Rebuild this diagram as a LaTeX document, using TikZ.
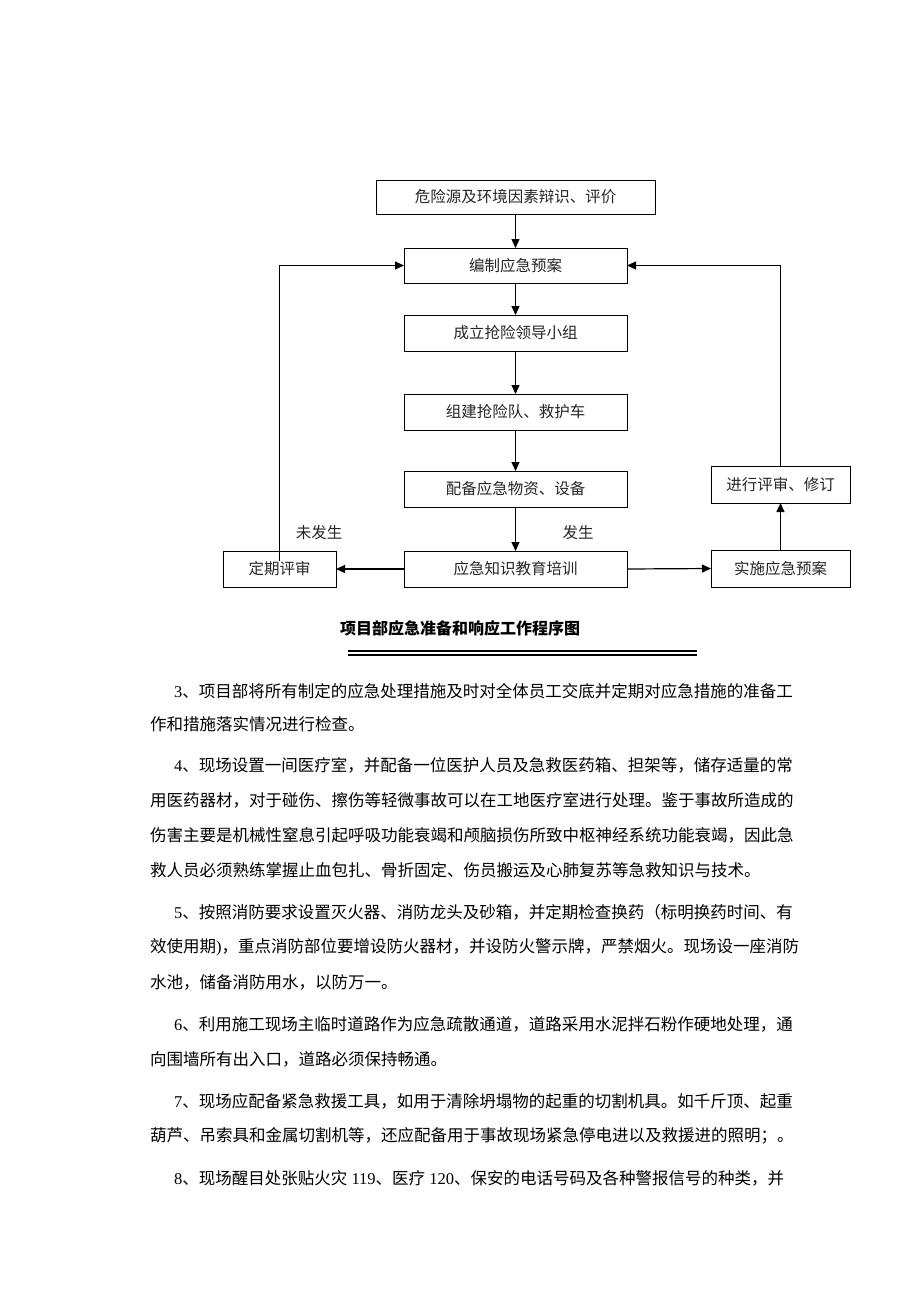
\documentclass[tikz,border=0pt]{standalone}
\usepackage{fontspec}
\newfontfamily\cjk{Noto Sans CJK SC}
\newfontfamily\lat{Liberation Serif}
\usetikzlibrary{arrows.meta}
\tikzset{
  box/.style={draw=black, line width=1pt, inner sep=0pt, outer sep=0pt, text=black!85, font=\cjk\fontsize{15.5}{18}\selectfont},
  arr/.style={line width=1.2pt, -{Triangle[length=9pt,width=8pt]}},
  lbl/.style={inner sep=0pt, text=black!85, font=\cjk\fontsize{15.5}{18}\selectfont},
  body/.style={anchor=west, inner sep=0pt, text=black, font=\cjk\fontsize{16.5}{20}\selectfont},
  ttl/.style={inner sep=0pt, text=black, font=\cjk\bfseries\fontsize{16}{20}\selectfont}
}
\begin{document}
\begin{tikzpicture}[x=1pt,y=-1pt]
\useasboundingbox (0,0) rectangle (920,1302);
\fill[white] (0,0) rectangle (920,1302);
% flowchart boxes
\node[box, minimum width=279pt, minimum height=34pt] (b1) at (515.5,197) {危险源及环境因素辩识、评价};
\node[box, minimum width=223pt, minimum height=35pt] (b2) at (515.5,265.5) {编制应急预案};
\node[box, minimum width=223pt, minimum height=36pt] (b3) at (515.5,333) {成立抢险领导小组};
\node[box, minimum width=223pt, minimum height=36pt] (b4) at (515.5,412) {组建抢险队、救护车};
\node[box, minimum width=223pt, minimum height=36pt] (b5) at (515.5,489) {配备应急物资、设备};
\node[box, minimum width=223pt, minimum height=36pt] (b6) at (515.5,569) {应急知识教育培训};
\node[box, minimum width=113pt, minimum height=36pt] (dq) at (279.5,569) {定期评审};
\node[box, minimum width=139pt, minimum height=37pt] (ss) at (780.5,568.5) {实施应急预案};
\node[box, minimum width=139pt, minimum height=37pt] (ps) at (780.5,484.5) {进行评审、修订};
\node[lbl] (nf) at (319,533) {未发生};
\node[lbl] (fs) at (578,533) {发生};
\coordinate (lc) at (279,561);
% connectors
\draw[arr] (b1) -- (b2);
\draw[arr] (b2) -- (b3);
\draw[arr] (b3) -- (b4);
\draw[arr] (b4) -- (b5);
\draw[arr] (b5) -- (b6);
\draw[arr] (b6.west) -- (dq.east);
\draw[arr] (b6.east) -- (ss.west);
\draw[arr] (ss) -- (ps);
\draw[arr, line width=1pt] (lc) |- (b2.west);
\draw[arr, line width=1pt] (ps.north) |- (b2.east);
% title
\node[ttl] (title) at (460,628) {项目部应急准备和响应工作程序图};
\draw[line width=1.2pt] (348,651) -- (697,651);
\draw[line width=2.8pt] (348,655) -- (697,655);
% body text
\node[body] (l1) at (174,691) {{\lat 3}、项目部将所有制定的应急处理措施及时对全体员工交底并定期对应急措施的准备工};
\node[body] (l2) at (150,724) {作和措施落实情况进行检查。};
\node[body] (l3) at (174,765) {{\lat 4}、现场设置一间医疗室，并配备一位医护人员及急救医药箱、担架等，储存适量的常};
\node[body] (l4) at (150,800) {用医药器材，对于碰伤、擦伤等轻微事故可以在工地医疗室进行处理。鉴于事故所造成的};
\node[body] (l5) at (150,835) {伤害主要是机械性窒息引起呼吸功能衰竭和颅脑损伤所致中枢神经系统功能衰竭，因此急};
\node[body] (l6) at (150,870) {救人员必须熟练掌握止血包扎、骨折固定、伤员搬运及心肺复苏等急救知识与技术。};
\node[body] (l7) at (174,912) {{\lat 5}、按照消防要求设置灭火器、消防龙头及砂箱，并定期检查换药（标明换药时间、有};
\node[body] (l8) at (150,947) {效使用期{\lat )}，重点消防部位要增设防火器材，并设防火警示牌，严禁烟火。现场设一座消防};
\node[body] (l9) at (150,982) {水池，储备消防用水，以防万一。};
\node[body] (l10) at (174,1024) {{\lat 6}、利用施工现场主临时道路作为应急疏散通道，道路采用水泥拌石粉作硬地处理，通};
\node[body] (l11) at (150,1059) {向围墙所有出入口，道路必须保持畅通。};
\node[body] (l12) at (174,1101) {{\lat 7}、现场应配备紧急救援工具，如用于清除坍塌物的起重的切割机具。如千斤顶、起重};
\node[body] (l13) at (150,1136) {葫芦、吊索具和金属切割机等，还应配备用于事故现场紧急停电进以及救援进的照明；。};
\node[body] (l14) at (174,1178) {{\lat 8}、现场醒目处张贴火灾{\lat\ 119}、医疗{\lat\ 120}、保安的电话号码及各种警报信号的种类，并};
\end{tikzpicture}
\end{document}
